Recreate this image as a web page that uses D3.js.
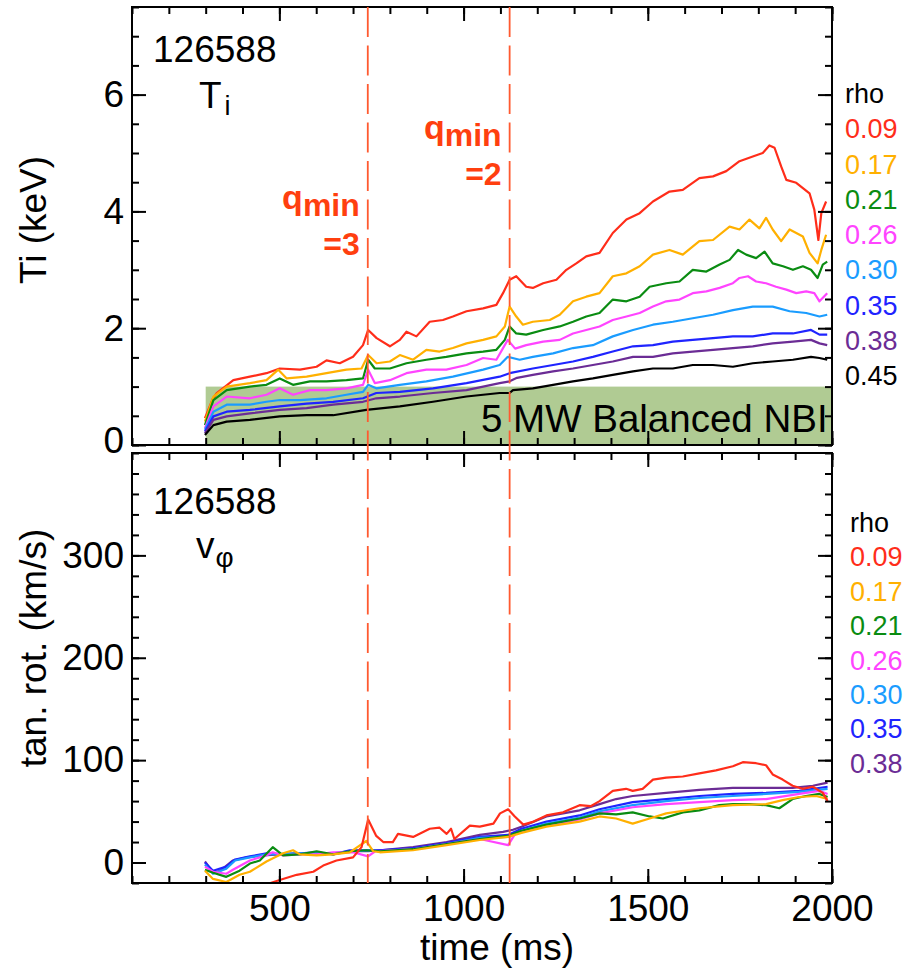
<!DOCTYPE html>
<html>
<head>
<meta charset="utf-8">
<script src="https://cdn.jsdelivr.net/npm/d3@7"></script>
<style>
  html, body { margin: 0; padding: 0; background: #fff; }
  svg { display: block; font-family: "Liberation Sans", Arial, Helvetica, sans-serif; }
</style>
</head>
<body>
<svg id="chart" width="922" height="972"></svg>
<script>
// ---- data -------------------------------------------------------------
const shot = "126588";
const timeDomain = [100, 2000];
const timeMajorTicks = [500, 1000, 1500, 2000];
const timeMinorTicks = d3.range(100, 2001, 100);

const tiMajorTicks = [0, 2, 4, 6];
const tiMinorTicks = d3.range(0, 7.51, 0.5);
const vMajorTicks = [0, 100, 200, 300];
const vMinorTicks = d3.range(-20, 401, 20);

const qminTimes = [740, 1125];          // q_min = 3 and q_min = 2 crossings (ms)
const nbiWindow = [300, 2000];          // 5 MW balanced NBI, time range (ms)
const nbiLevel = 1.0;                   // height of the NBI band on the Ti axis

const rhoTi = ["0.09", "0.17", "0.21", "0.26", "0.30", "0.35", "0.38", "0.45"];
const rhoV  = ["0.09", "0.17", "0.21", "0.26", "0.30", "0.35", "0.38"];
const rhoColors = ["#ff2d1a", "#ffb000", "#0a8c12", "#ff44ff", "#1a9cff", "#1f24ff", "#6b2c95", "#000000"];

// Ion temperature Ti (keV) vs time (ms), one array per rho
const ti009 = [[298,0.46],[320,0.80],[330,0.89],[357,1.02],[375,1.11],[420,1.17],[465,1.23],[501,1.31],[556,1.29],[601,1.34],[628,1.45],[664,1.40],[700,1.51],[727,1.71],[741,1.97],[764,1.83],[800,1.69],[827,1.80],[845,1.94],[872,1.86],[908,2.11],[944,2.14],[971,2.20],[1008,2.29],[1053,2.34],[1089,2.40],[1107,2.60],[1125,2.83],[1143,2.89],[1170,2.71],[1188,2.69],[1216,2.77],[1252,2.83],[1279,3.00],[1306,3.11],[1333,3.23],[1369,3.29],[1405,3.63],[1442,3.86],[1478,3.97],[1514,4.17],[1559,4.34],[1595,4.37],[1640,4.57],[1677,4.60],[1713,4.69],[1749,4.86],[1785,4.94],[1812,5.00],[1830,5.13],[1844,5.09],[1862,4.77],[1876,4.54],[1903,4.49],[1921,4.40],[1939,4.31],[1952,4.03],[1963,3.51],[1971,3.97],[1984,4.17]];
const ti017 = [[298,0.40],[321,0.83],[357,1.00],[420,1.06],[465,1.11],[497,1.29],[520,1.14],[574,1.17],[628,1.23],[682,1.29],[723,1.31],[741,1.54],[764,1.40],[800,1.43],[827,1.54],[863,1.46],[899,1.63],[935,1.60],[971,1.66],[1008,1.74],[1053,1.80],[1089,1.86],[1112,2.03],[1125,2.37],[1143,2.20],[1161,2.06],[1188,2.11],[1234,2.14],[1261,2.23],[1297,2.46],[1333,2.54],[1369,2.60],[1405,2.89],[1442,2.94],[1478,3.06],[1514,3.26],[1559,3.34],[1595,3.26],[1640,3.49],[1677,3.51],[1722,3.74],[1749,3.69],[1776,3.86],[1803,3.71],[1821,3.89],[1839,3.69],[1862,3.49],[1885,3.69],[1903,3.63],[1921,3.57],[1939,3.29],[1961,3.11],[1971,3.34],[1984,3.60]];
const ti021 = [[298,0.34],[321,0.77],[357,0.94],[420,1.00],[465,1.03],[501,1.14],[537,1.03],[583,1.09],[628,1.09],[682,1.11],[727,1.14],[741,1.46],[759,1.31],[800,1.31],[845,1.40],[899,1.46],[953,1.51],[1008,1.57],[1053,1.60],[1089,1.63],[1112,1.80],[1125,2.03],[1143,1.91],[1170,1.89],[1216,1.97],[1261,2.03],[1297,2.11],[1333,2.20],[1369,2.26],[1405,2.49],[1442,2.46],[1478,2.54],[1505,2.71],[1550,2.77],[1586,2.80],[1622,3.00],[1659,2.97],[1695,3.09],[1722,3.17],[1745,3.34],[1767,3.26],[1794,3.20],[1817,3.31],[1839,3.11],[1867,3.06],[1894,3.00],[1921,3.06],[1943,3.00],[1961,2.86],[1975,3.09],[1987,3.14]];
const ti026 = [[298,0.29],[321,0.66],[357,0.83],[420,0.80],[465,0.86],[501,0.97],[537,0.86],[583,0.94],[628,0.94],[682,0.97],[727,1.03],[741,1.29],[759,1.06],[800,1.11],[845,1.23],[899,1.29],[953,1.29],[1008,1.37],[1053,1.49],[1089,1.46],[1120,1.80],[1140,1.65],[1170,1.71],[1216,1.77],[1261,1.80],[1297,1.91],[1333,1.97],[1369,2.03],[1405,2.14],[1442,2.20],[1478,2.26],[1514,2.37],[1550,2.46],[1586,2.49],[1622,2.60],[1659,2.63],[1695,2.69],[1731,2.77],[1749,2.86],[1772,2.89],[1794,2.80],[1821,2.77],[1848,2.71],[1876,2.66],[1903,2.60],[1930,2.63],[1952,2.60],[1966,2.46],[1987,2.60]];
const ti030 = [[298,0.26],[321,0.57],[357,0.69],[420,0.69],[465,0.74],[501,0.77],[556,0.77],[628,0.80],[682,0.86],[727,0.91],[741,1.03],[763,0.97],[827,1.03],[899,1.09],[971,1.17],[1053,1.29],[1098,1.37],[1120,1.51],[1152,1.46],[1188,1.51],[1243,1.57],[1297,1.66],[1351,1.71],[1405,1.86],[1460,1.97],[1514,2.06],[1568,2.11],[1622,2.17],[1677,2.23],[1731,2.31],[1785,2.37],[1839,2.37],[1885,2.29],[1930,2.26],[1966,2.20],[1987,2.23]];
const ti035 = [[298,0.23],[321,0.49],[357,0.57],[420,0.60],[501,0.66],[574,0.71],[646,0.74],[727,0.80],[763,0.89],[827,0.91],[917,0.97],[1008,1.06],[1098,1.17],[1125,1.23],[1188,1.31],[1243,1.37],[1297,1.43],[1351,1.51],[1405,1.60],[1460,1.69],[1514,1.71],[1568,1.77],[1622,1.80],[1677,1.83],[1731,1.86],[1785,1.86],[1839,1.91],[1894,1.91],[1943,1.97],[1966,1.89],[1987,1.89]];
const ti038 = [[298,0.20],[321,0.43],[357,0.49],[420,0.54],[501,0.60],[574,0.63],[646,0.69],[727,0.74],[763,0.80],[827,0.83],[917,0.89],[1008,0.94],[1098,1.06],[1125,1.09],[1145,1.15],[1188,1.20],[1243,1.26],[1297,1.31],[1351,1.37],[1405,1.43],[1460,1.51],[1514,1.51],[1568,1.57],[1622,1.60],[1677,1.63],[1731,1.66],[1785,1.69],[1839,1.74],[1894,1.77],[1943,1.80],[1966,1.74],[1987,1.71]];
const ti045 = [[298,0.17],[321,0.34],[357,0.40],[420,0.43],[501,0.49],[574,0.51],[646,0.51],[736,0.60],[827,0.66],[917,0.74],[1008,0.83],[1098,0.89],[1125,0.89],[1134,0.94],[1188,0.97],[1243,1.03],[1297,1.09],[1351,1.14],[1405,1.20],[1460,1.26],[1514,1.31],[1568,1.31],[1622,1.37],[1677,1.37],[1731,1.34],[1785,1.40],[1839,1.43],[1894,1.46],[1943,1.51],[1966,1.49],[1987,1.46]];

// Toroidal (tangential) rotation v_phi (km/s) vs time (ms), one array per rho
const v009 = [[469,-21],[476,-20],[501,-17],[547,-12],[592,-9],[619,-3],[655,2],[700,5],[723,15],[741,42],[763,26],[782,20],[808,20],[822,28],[863,25],[908,33],[935,34],[954,28],[966,33],[975,23],[1017,36],[1044,35],[1081,38],[1099,48],[1121,52],[1139,45],[1162,37],[1190,40],[1225,46],[1270,49],[1315,56],[1345,55],[1369,60],[1405,70],[1441,72],[1459,70],[1486,72],[1514,81],[1550,83],[1595,84],[1640,87],[1685,90],[1731,94],[1758,98],[1794,97],[1821,95],[1839,86],[1866,81],[1893,75],[1920,72],[1948,74],[1975,68],[1988,60]];
const v017 = [[298,-8],[320,-16],[356,-19],[392,-12],[420,-9],[465,1],[510,9],[537,12],[556,8],[601,7],[646,8],[691,10],[736,21],[755,11],[773,10],[863,12],[954,17],[1044,22],[1121,25],[1157,29],[1225,35],[1315,40],[1369,45],[1414,43],[1459,38],[1505,43],[1550,48],[1640,53],[1731,56],[1821,57],[1866,61],[1911,64],[1957,65],[1988,62]];
const v021 = [[298,-7],[320,-10],[356,-14],[392,-8],[420,-1],[447,2],[482,15],[510,7],[556,8],[601,11],[646,8],[691,11],[736,12],[773,11],[863,13],[954,18],[1044,23],[1121,26],[1157,31],[1225,37],[1315,43],[1369,48],[1414,47],[1459,49],[1505,45],[1541,43],[1595,49],[1640,51],[1694,56],[1731,57],[1776,57],[1821,56],[1857,53],[1893,62],[1929,65],[1966,67],[1988,64]];
const v026 = [[298,-4],[320,-9],[356,-11],[374,-7],[420,2],[465,7],[482,10],[510,7],[556,8],[601,8],[646,10],[700,10],[741,6],[760,11],[863,13],[954,18],[1044,23],[1121,17],[1140,28],[1225,36],[1315,42],[1369,48],[1459,54],[1550,57],[1640,59],[1731,61],[1821,62],[1911,67],[1966,70],[1988,67]];
const v030 = [[298,-2],[320,-11],[356,-6],[380,2],[420,5],[465,8],[556,9],[646,9],[741,12],[773,11],[863,13],[954,18],[1044,24],[1121,25],[1157,31],[1225,38],[1315,44],[1369,50],[1459,56],[1550,60],[1640,63],[1731,65],[1821,67],[1911,69],[1988,72]];
const v035 = [[298,0],[320,-8],[356,-4],[380,3],[420,6],[465,9],[510,8],[556,9],[601,10],[646,8],[691,12],[741,12],[773,12],[863,14],[954,19],[1044,25],[1121,27],[1157,33],[1225,40],[1315,46],[1369,52],[1459,59],[1550,62],[1640,65],[1731,67],[1821,68],[1911,70],[1988,74]];
const v038 = [[298,1],[320,-10],[340,-8],[374,2],[411,5],[456,7],[501,8],[547,9],[600,8],[646,9],[691,11],[741,11],[773,12],[863,15],[954,20],[1044,27],[1107,30],[1134,32],[1157,35],[1225,45],[1315,51],[1369,57],[1414,62],[1459,65],[1550,68],[1640,71],[1731,73],[1821,73],[1893,73],[1948,75],[1988,78]];

const tiSeries = [ti009, ti017, ti021, ti026, ti030, ti035, ti038, ti045];
const vSeries  = [v009, v017, v021, v026, v030, v035, v038];

// ---- layout ----------------------------------------------------------
const svg = d3.select("#chart");
const left = 132, right = 832;
const top1 = 7, bot1 = 445;
const top2 = 453, bot2 = 883;
const bigFont = 37, legendFont = 27;

const x = d3.scaleLinear().domain(timeDomain).range([left, right]);
const yTi = d3.scaleLinear().domain([0, 7.5]).range([bot1, top1]);
const yV = d3.scaleLinear().domain([-20, 400]).range([bot2, top2]);

const defs = svg.append("defs");
defs.append("clipPath").attr("id", "clipTop")
  .append("rect").attr("x", left).attr("y", top1).attr("width", right - left).attr("height", bot1 - top1);
defs.append("clipPath").attr("id", "clipBot")
  .append("rect").attr("x", left).attr("y", top2).attr("width", right - left).attr("height", bot2 - top2);

// NBI band behind the Ti traces
const gTop = svg.append("g").attr("clip-path", "url(#clipTop)");
gTop.append("rect")
  .attr("x", x(nbiWindow[0])).attr("y", yTi(nbiLevel))
  .attr("width", x(nbiWindow[1]) - x(nbiWindow[0]))
  .attr("height", yTi(0) - yTi(nbiLevel))
  .attr("fill", "#b0cb93");
gTop.append("text")
  .attr("x", 481).attr("y", 432)
  .attr("font-size", 38.5).attr("fill", "#000")
  .text("5 MW Balanced NBI");

const line = yScale => d3.line().x(d => x(d[0])).y(d => yScale(d[1])).curve(d3.curveLinear);

gTop.selectAll("path.ti").data(tiSeries).join("path")
  .attr("class", "ti")
  .attr("d", d => line(yTi)(d))
  .attr("fill", "none")
  .attr("stroke", (d, i) => rhoColors[i])
  .attr("stroke-width", 2.2)
  .attr("stroke-linejoin", "round");

const gBot = svg.append("g").attr("clip-path", "url(#clipBot)");
// draw outer radii first so the core (red) trace sits on top
gBot.selectAll("path.v").data(vSeries.map((d, i) => ({ d, i })).reverse()).join("path")
  .attr("class", "v")
  .attr("d", o => line(yV)(o.d))
  .attr("fill", "none")
  .attr("stroke", o => rhoColors[o.i])
  .attr("stroke-width", 2.2)
  .attr("stroke-linejoin", "round");

// ---- axes (ticks point inward on all four sides) --------------------
function styleAxis(g) {
  g.select(".domain").remove();
  g.selectAll(".tick line").attr("stroke", "#000").attr("stroke-width", 2);
  g.selectAll(".tick text").attr("font-size", bigFont).attr("fill", "#000")
    .attr("font-family", "Liberation Sans, Arial, Helvetica, sans-serif");
}
function panelAxes(yScale, yTop, yBottom, majorY, minorY, showTimeLabels, yFmt) {
  // minor ticks
  svg.append("g").attr("transform", `translate(${left},0)`)
    .call(d3.axisLeft(yScale).tickValues(minorY).tickSize(-7).tickFormat("")).call(styleAxis);
  svg.append("g").attr("transform", `translate(${right},0)`)
    .call(d3.axisRight(yScale).tickValues(minorY).tickSize(-7).tickFormat("")).call(styleAxis);
  svg.append("g").attr("transform", `translate(0,${yBottom})`)
    .call(d3.axisBottom(x).tickValues(timeMinorTicks).tickSize(-7).tickFormat("")).call(styleAxis);
  svg.append("g").attr("transform", `translate(0,${yTop})`)
    .call(d3.axisTop(x).tickValues(timeMinorTicks).tickSize(-7).tickFormat("")).call(styleAxis);
  // major ticks
  svg.append("g").attr("class", "yMajor").attr("transform", `translate(${left},0)`)
    .call(d3.axisLeft(yScale).tickValues(majorY).tickSize(-14).tickPadding(8).tickFormat(yFmt)).call(styleAxis);
  svg.append("g").attr("transform", `translate(${right},0)`)
    .call(d3.axisRight(yScale).tickValues(majorY).tickSize(-14).tickFormat("")).call(styleAxis);
  svg.append("g").attr("transform", `translate(0,${yBottom})`)
    .call(d3.axisBottom(x).tickValues(timeMajorTicks).tickSize(-14).tickPadding(12)
      .tickFormat(showTimeLabels ? d3.format("d") : "")).call(styleAxis);
  svg.append("g").attr("transform", `translate(0,${yTop})`)
    .call(d3.axisTop(x).tickValues(timeMajorTicks).tickSize(-14).tickFormat("")).call(styleAxis);
  // frame
  svg.append("rect").attr("x", left).attr("y", yTop)
    .attr("width", right - left).attr("height", yBottom - yTop)
    .attr("fill", "none").attr("stroke", "#000").attr("stroke-width", 2);
}
panelAxes(yTi, top1, bot1, tiMajorTicks, tiMinorTicks, false, d3.format("d"));
panelAxes(yV, top2, bot2, vMajorTicks, vMinorTicks, true, d3.format("d"));

// keep the lowest Ti label clear of the lower panel
svg.selectAll(".yMajor").filter((d, i) => i === 0)
  .selectAll(".tick").filter(d => d === 0).select("text").attr("dy", "0.2em");

// ---- axis titles -----------------------------------------------------
svg.append("text")
  .attr("transform", `translate(46,${(top1 + bot1) / 2 - 6}) rotate(-90)`)
  .attr("text-anchor", "middle").attr("font-size", bigFont).text("Ti (keV)");
svg.append("text")
  .attr("transform", `translate(46,${(top2 + bot2) / 2 - 20}) rotate(-90)`)
  .attr("text-anchor", "middle").attr("font-size", bigFont).text("tan. rot. (km/s)");
svg.append("text")
  .attr("x", 497).attr("y", 960)
  .attr("text-anchor", "middle").attr("font-size", bigFont).text("time (ms)");

// ---- panel annotations -----------------------------------------------
svg.append("text").attr("x", 153).attr("y", 62).attr("font-size", bigFont).text(shot);
const tLab = svg.append("text").attr("x", 199).attr("y", 108).attr("font-size", bigFont);
tLab.append("tspan").text("T");
tLab.append("tspan").attr("dx", 3).attr("dy", 7).attr("font-size", 27).text("i");

svg.append("text").attr("x", 153).attr("y", 514).attr("font-size", bigFont).text(shot);
const vLab = svg.append("text").attr("x", 196).attr("y", 558).attr("font-size", bigFont);
vLab.append("tspan").text("v");
vLab.append("tspan").attr("dx", 1).attr("dy", 9).attr("font-size", 28).text("φ");

// ---- q_min markers ---------------------------------------------------
svg.selectAll("line.qmin").data(qminTimes).join("line")
  .attr("class", "qmin")
  .attr("x1", d => x(d)).attr("x2", d => x(d))
  .attr("y1", top1).attr("y2", bot2)
  .attr("stroke", "#ff5a30").attr("stroke-width", 1.8)
  .attr("stroke-dasharray", "30,8.5");

const qLabels = [
  { t: qminTimes[0], eq: "=3", yq: 209 },
  { t: qminTimes[1], eq: "=2", yq: 139 }
];
qLabels.forEach(q => {
  const xr = x(q.t) - 8;
  const tx = svg.append("text").attr("x", xr).attr("y", q.yq)
    .attr("text-anchor", "end").attr("font-weight", "bold")
    .attr("fill", "#ff3f0f").attr("font-size", 34);
  tx.append("tspan").text("q");
  tx.append("tspan").attr("dy", 7).attr("font-size", 32).text("min");
  svg.append("text").attr("x", xr).attr("y", q.yq + 46)
    .attr("text-anchor", "end").attr("font-weight", "bold")
    .attr("fill", "#ff3f0f").attr("font-size", 32).text(q.eq);
});

// ---- rho legends -----------------------------------------------------
function legend(x0, yRho, step, labels) {
  const g = svg.append("g").attr("font-size", legendFont);
  g.append("text").attr("x", x0).attr("y", yRho).attr("fill", "#000").text("rho");
  g.selectAll("text.rho").data(labels).join("text")
    .attr("class", "rho")
    .attr("x", x0).attr("y", (d, i) => yRho + step * (i + 1))
    .attr("fill", (d, i) => rhoColors[i])
    .text(d => d);
}
legend(845, 103, 35.25, rhoTi);
legend(850, 532, 34.4, rhoV);
</script>
</body>
</html>
